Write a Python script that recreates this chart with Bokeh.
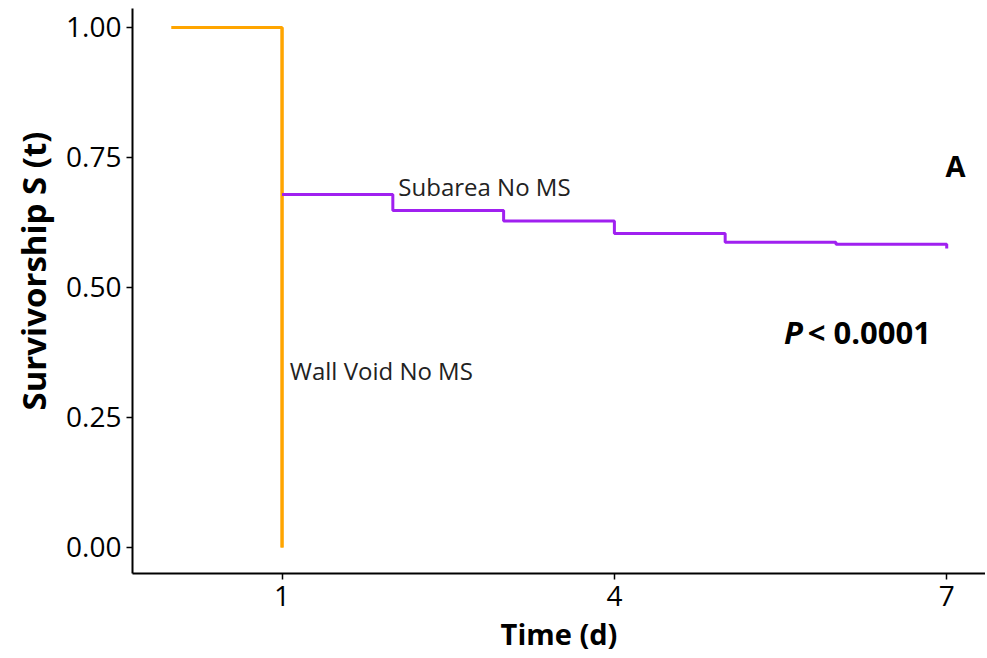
from bokeh.plotting import figure
from bokeh.models import Range1d, FixedTicker, Label, Title
from bokeh.embed import file_html
from bokeh.resources import INLINE

# Data
wall_times = [0, 1]
wall_surv = [1.0, 0.0]
sub_times = [1, 2, 3, 4, 5, 6, 7]
sub_surv = [0.679, 0.648, 0.628, 0.604, 0.587, 0.583, 0.575]
x_ticks = [1, 4, 7]
y_ticks = [0.0, 0.25, 0.5, 0.75, 1.0]
y_tick_labels = {0.0: "0.00", 0.25: "0.25", 0.5: "0.50", 0.75: "0.75", 1.0: "1.00"}

FONT = "Open Sans"

p = figure(width=985, height=657, output_backend="svg", toolbar_location=None,
           x_range=Range1d(-0.35, 7.35), y_range=Range1d(-0.05, 1.0365),
           min_border_left=132, min_border_right=0, min_border_top=8, min_border_bottom=84)

p.step(wall_times, wall_surv, mode="after", line_color="#FFA500", line_width=3)
p.line([wall_times[-1], wall_times[-1]], [wall_surv[0], wall_surv[-1]], line_color="#FFA500", line_width=3)
p.step(sub_times + [sub_times[-1]], sub_surv + [sub_surv[-1]], mode="after", line_color="#A020F0", line_width=3)

p.grid.visible = False
p.outline_line_color = None
p.background_fill_color = "white"
p.border_fill_color = "white"

for ax in (p.xaxis[0], p.yaxis[0]):
    ax.axis_line_color = "black"
    ax.axis_line_width = 2
    ax.major_tick_line_color = "black"
    ax.major_tick_line_width = 1.5
    ax.major_tick_out = 6
    ax.major_tick_in = 0
    ax.minor_tick_line_color = None
    ax.major_label_text_font = FONT
    ax.major_label_text_font_size = "28px"
    ax.major_label_text_color = "black"
    ax.axis_label_text_font = FONT
    ax.axis_label_text_font_style = "bold"
    ax.axis_label_text_color = "black"

p.xaxis.axis_label_text_font_size = "29px"
p.xaxis.ticker = FixedTicker(ticks=x_ticks)
p.yaxis.ticker = FixedTicker(ticks=y_ticks)
p.yaxis.major_label_overrides = y_tick_labels
p.xaxis.axis_label = "Time (d)"
p.xaxis.major_label_standoff = 6
p.xaxis.axis_label_standoff = 5

# y-axis title as a left-side title (reference title sits slightly above centre)
p.add_layout(Title(text="Survivorship S (t)", align="left", offset=163, standoff=16,
                   text_font=FONT, text_font_style="bold", text_font_size="33px",
                   text_color="black"), "left")

p.add_layout(Label(x=2.05, y=0.662, text="Subarea No MS", text_font=FONT,
                   text_font_size="24px", text_color="#222222"))
p.add_layout(Label(x=1.07, y=0.34, text="Wall Void No MS", text_font=FONT,
                   text_font_size="24px", text_color="#222222", text_baseline="middle"))
p.add_layout(Label(x=7.08, y=0.735, text="A", text_font=FONT, text_font_style="bold",
                   text_font_size="29px", text_color="black", text_align="center",
                   text_baseline="middle"))
p.add_layout(Label(x=5.53, y=0.415, text="P", text_font=FONT, text_font_style="bold italic",
                   text_font_size="31px", text_color="black", text_baseline="middle"))
p.add_layout(Label(x=5.745, y=0.415, text="< 0.0001", text_font=FONT, text_font_style="bold",
                   text_font_size="31px", text_color="black", text_baseline="middle"))

open("out.html", "w").write(file_html(p, INLINE))
